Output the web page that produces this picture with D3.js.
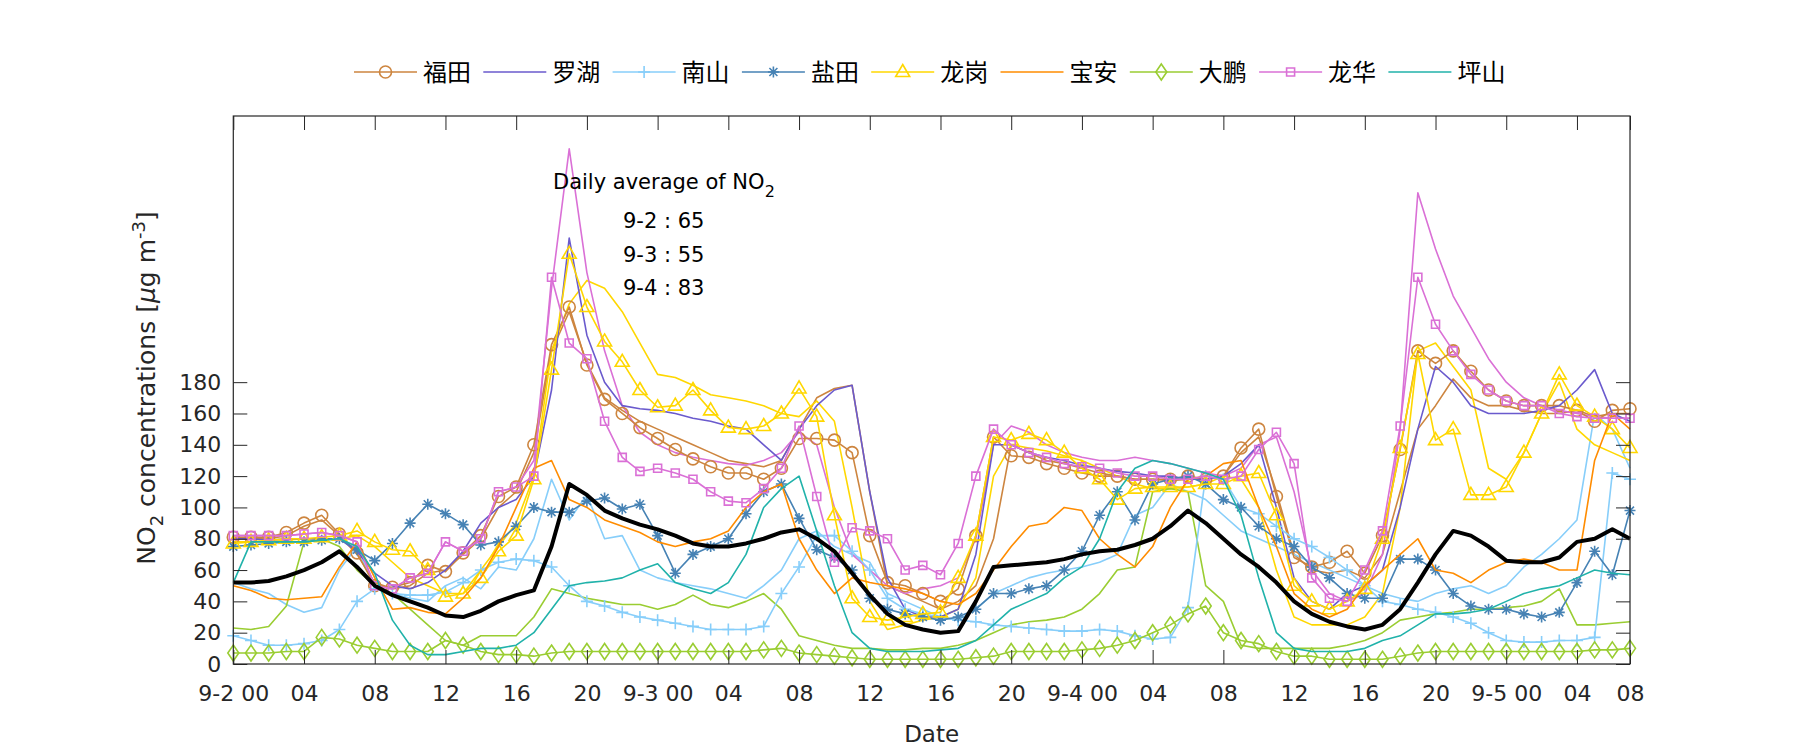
<!DOCTYPE html>
<html><head><meta charset="utf-8">
<script src="https://cdn.jsdelivr.net/npm/d3@7"></script>
<style>body{margin:0;background:#fff}</style>
</head><body><svg id="c" width="1800" height="750"></svg>
<script>
// ---------- axis ticks ----------
const xTickHours = [0,4,8,12,16,20,24,28,32,36,40,44,48,52,56,60,64,68,72,76,79];
const xTickLabels = ["9-2 00","04","08","12","16","20","9-3 00","04","08","12","16","20","9-4 00","04","08","12","16","20","9-5 00","04","08"];
const yTicks = [0,20,40,60,80,100,120,140,160,180];

// ---------- station series (hourly NO2, 9-2 00 .. 9-5 07) ----------
const futian = [81,81,81,84,90,95,83,71,50,49, 52,63,59,71,82,107,113,140,204,228, 191,169,160,151,144,137,131,126,122,122, 118,125,144,144,143,135,82,52,50,45, 40,48,82,145,133,132,128,125,122,120, 120,118,118,118,120,118,120,138,150,107, 68,62,65,72,58,82,137,200,192,200, 187,175,168,165,165,165,162,155,162,163];
const luohu = [80,80,79,80,80,80,80,72,58,50, 48,52,60,72,90,100,105,120,175,272, 210,180,165,163,162,160,157,155,152,150, 140,130,150,165,175,178,110,55,35,30, 30,35,70,140,140,135,132,130,127,125, 123,122,120,120,118,118,120,128,140,100, 55,40,35,45,50,60,100,150,190,180, 165,160,160,160,162,165,175,188,160,155];
const nanshan = [18,15,12,12,13,15,22,40,48,45, 44,44,46,52,60,65,67,66,62,50, 40,37,33,30,28,26,24,22,22,22, 24,45,62,82,82,72,60,42,35,32, 30,28,27,25,24,23,22,21,21,22, 21,18,16,17,36,120,118,100,96,88, 80,75,68,60,50,40,38,35,33,30, 26,20,15,14,14,15,15,17,122,118];
const yantian = [75,76,77,78,78,79,80,73,66,77, 90,102,96,89,76,78,88,100,97,97, 104,106,99,102,82,58,70,75,80,96, 110,115,93,73,68,60,42,35,32,30, 28,30,35,45,45,48,50,60,72,95, 110,92,115,118,120,115,105,100,88,80, 75,62,55,45,42,42,67,67,60,45, 37,35,35,32,30,33,52,72,57,98];
const longgang = [77,78,79,80,80,81,82,85,78,73, 72,60,43,45,55,72,82,118,188,262, 228,206,193,175,164,165,175,162,151,150, 152,160,176,158,95,42,30,28,30,32, 33,55,82,145,143,147,143,135,125,118, 105,112,113,113,113,115,115,120,122,95, 50,40,35,40,48,80,138,198,143,150, 108,108,113,135,160,185,165,158,150,138];
const baoan = [50,47,42,41,42,43,62,78,55,35, 36,33,32,42,55,75,100,125,130,105, 100,92,88,84,78,75,78,80,85,100, 110,115,80,60,45,55,52,50,48,45, 40,38,45,60,75,88,90,100,98,80, 70,62,75,100,118,120,128,130,100,75, 45,35,30,35,50,60,70,80,60,58, 52,60,65,67,65,60,60,130,160,150];
const dapeng = [7,7,7,8,8,17,16,12,10,8, 8,8,15,12,8,6,6,5,7,8, 8,8,8,8,8,8,8,8,8,8, 9,10,7,6,5,4,3,3,3,3, 3,3,4,5,8,8,8,8,9,10, 12,15,20,25,32,37,20,15,13,8, 5,5,3,3,3,3,5,7,8,8, 8,8,8,8,8,8,8,9,9,10];
const longhua = [82,82,82,82,83,84,82,78,50,48, 55,58,78,72,80,110,113,120,247,205, 195,155,132,123,125,122,118,110,104,103, 112,125,152,107,65,87,85,80,60,63, 57,77,120,150,140,135,132,128,126,125, 122,120,120,118,118,120,118,120,137,148, 128,55,42,40,60,85,152,247,217,200, 185,175,168,165,165,160,158,157,157,157];
const pingshan = [52,78,78,78,78,79,80,75,58,28, 12,6,6,8,10,10,12,20,35,50, 52,53,55,60,64,52,48,45,52,70, 100,112,120,85,50,20,10,8,8,8, 9,10,15,25,35,40,45,55,62,80, 110,125,130,128,125,122,118,95,55,20, 10,8,8,8,10,15,18,25,32,32, 33,35,40,45,48,50,55,60,58,57];
// second (unmarked) curves drawn in the same colours
const futianB = [80,80,80,82,88,92,82,70,52,48, 50,58,60,70,80,100,110,135,200,225, 192,170,162,155,150,145,140,135,130,128, 126,130,150,170,176,178,110,50,45,40, 35,40,50,80,140,135,130,128,125,122, 120,118,118,117,118,118,120,135,145,110, 70,60,58,60,55,70,110,150,165,182, 170,165,165,162,160,160,162,158,160,160];
const nanshanB = [52,48,45,38,33,36,60,75,48,45, 42,40,50,55,48,62,60,80,118,92, 108,80,82,60,55,52,50,48,45,42, 50,60,80,85,75,70,65,45,40,35, 30,28,35,45,50,55,58,60,62,65, 70,95,100,115,110,105,95,85,80,75, 70,65,60,55,50,45,42,40,45,48, 50,45,50,62,70,80,92,160,150,125];
const longgangB = [78,78,78,79,80,80,80,82,75,65, 55,50,45,45,60,75,90,120,200,230, 245,240,225,205,185,183,178,172,170,168, 165,160,158,168,155,100,40,22,25,28, 30,35,55,120,140,138,136,133,130,125, 120,115,112,112,113,115,120,118,100,60, 30,25,25,25,30,45,100,200,205,190, 175,125,118,135,160,180,150,140,135,130];
const dapengB = [23,22,24,37,78,80,75,60,50,45, 35,25,15,12,18,18,18,30,48,45, 42,40,38,38,35,38,44,38,36,40, 45,35,18,15,12,10,10,9,9,10, 10,12,15,20,25,27,28,30,35,45, 60,62,110,112,110,50,40,12,10,10, 10,10,10,12,15,20,28,30,32,33, 35,35,36,37,40,48,25,25,26,27];
const longhuaB = [82,82,82,82,83,84,82,78,50,48, 55,58,78,72,80,110,113,130,240,329, 250,200,165,148,140,135,132,130,128,127, 130,135,148,140,100,70,60,50,45,48, 50,55,80,140,152,148,140,135,132,130, 130,132,130,128,125,122,120,125,140,145, 110,60,45,40,45,70,150,301,265,235, 215,195,180,170,165,162,160,158,157,157];
// city average (thick black)
const average = [52,52,53,56,60,65,72,62,50,44, 40,36,31,30,34,40,44,47,75,115, 108,98,93,89,86,82,77,75,75,77, 80,84,86,80,72,58,44,32,25,22, 20,21,40,62,63,64,65,67,70,72, 73,76,80,88,98,90,80,70,62,52, 40,32,27,24,22,25,35,52,70,85, 82,75,66,65,65,68,78,80,86,80];

const stationNames = ["福田","罗湖","南山","盐田","龙岗","宝安","大鹏","龙华","坪山"];
const stationColors = ["#CD853F","#6A5ACD","#87CEFA","#4682B4","#FFD700","#FF8C00","#9ACD32","#DA70D6","#20B2AA"];
const stationMarkers = ["circle","none","plus","star","triangle","none","diamond","square","none"];
const stationData = [futian,luohu,nanshan,yantian,longgang,baoan,dapeng,longhua,pingshan];
const extraData = [futianB,nanshanB,longgangB,dapengB,longhuaB];
const extraColors = ["#CD853F","#87CEFA","#FFD700","#9ACD32","#DA70D6"];

// ---------- drawing ----------
const svg = d3.select("#c");
svg.append("rect").attr("width",1800).attr("height",750).attr("fill","#fff");
const L = 233.3, R = 1630, T = 116, B = 664;
const x = d3.scaleLinear().domain([0,79]).range([L,R]);
const y = d3.scaleLinear().domain([0,350]).range([B,T]);
const axisCol = "#262626";
const tickFont = "'DejaVu Sans', sans-serif";

const g = svg.append("g");
const line = d3.line().x((d,i)=>x(i)).y(d=>y(d));

const markerPath = {
  plus: "M-6,0H6M0,-6V6",
  star: "M-5.5,0H5.5M0,-5.5V5.5M-4,-4L4,4M-4,4L4,-4",
  triangle: "M0,-7.5L7,4.5L-7,4.5Z",
  diamond: "M0,-8L5.5,0L0,8L-5.5,0Z",
  square: "M-4,-4H4V4H-4Z"
};
function drawMarker(sel, type, color) {
  if (type === "none") return;
  if (type === "circle") {
    sel.append("circle").attr("r",6).attr("fill","none").attr("stroke",color).attr("stroke-width",1.6);
  } else {
    sel.append("path").attr("d",markerPath[type]).attr("fill","none").attr("stroke",color).attr("stroke-width",1.6);
  }
}

extraData.forEach((arr,k)=>{
  g.append("path").datum(arr).attr("d",line).attr("fill","none")
    .attr("stroke",extraColors[k]).attr("stroke-width",1.6).attr("stroke-linejoin","round");
});
stationData.forEach((arr,k)=>{
  g.append("path").datum(arr).attr("d",line).attr("fill","none")
    .attr("stroke",stationColors[k]).attr("stroke-width",1.6).attr("stroke-linejoin","round");
  if (stationMarkers[k] !== "none") {
    const pts = g.append("g").selectAll("g").data(arr).join("g")
      .attr("transform",(d,i)=>`translate(${x(i)},${y(d)})`);
    drawMarker(pts, stationMarkers[k], stationColors[k]);
  }
});
g.append("path").datum(average).attr("d",line).attr("fill","none")
  .attr("stroke","#000").attr("stroke-width",4).attr("stroke-linejoin","round");

// ---------- axes ----------
function styleAxis(a){
  a.selectAll("line").attr("stroke",axisCol).attr("stroke-width",1);
  a.selectAll("path.domain").remove();
  a.selectAll("text").attr("fill",axisCol).style("font-family",tickFont).style("font-size","22px");
}
const xb = svg.append("g").attr("transform",`translate(0,${B})`)
  .call(d3.axisBottom(x).tickValues(xTickHours).tickFormat((d,i)=>xTickLabels[i]).tickSizeInner(-14).tickSizeOuter(0).tickPadding(21));
styleAxis(xb);
const xt = svg.append("g").attr("transform",`translate(0,${T})`)
  .call(d3.axisTop(x).tickValues(xTickHours).tickFormat("").tickSizeInner(-14).tickSizeOuter(0));
styleAxis(xt);
const yl = svg.append("g").attr("transform",`translate(${L},0)`)
  .call(d3.axisLeft(y).tickValues(yTicks).tickSizeInner(-14).tickSizeOuter(0).tickPadding(12));
styleAxis(yl);
const yr = svg.append("g").attr("transform",`translate(${R},0)`)
  .call(d3.axisRight(y).tickValues(yTicks).tickFormat("").tickSizeInner(-14).tickSizeOuter(0));
styleAxis(yr);
svg.append("rect").attr("x",L).attr("y",T).attr("width",R-L).attr("height",B-T)
  .attr("fill","none").attr("stroke",axisCol).attr("stroke-width",1.2);

// axis labels
svg.append("text").attr("x",(L+R)/2).attr("y",742).attr("text-anchor","middle")
  .attr("fill",axisCol).style("font-family",tickFont).style("font-size","23px").text("Date");
const ylab = svg.append("text").attr("transform",`translate(155,${(T+B)/2 - 2}) rotate(-90)`)
  .attr("text-anchor","middle").attr("fill",axisCol).style("font-family",tickFont).style("font-size","25px");
ylab.append("tspan").text("NO");
ylab.append("tspan").attr("dy",8).style("font-size","18px").text("2");
ylab.append("tspan").attr("dy",-8).text(" concentrations [");
ylab.append("tspan").style("font-style","italic").text("μ");
ylab.append("tspan").text("g m");
ylab.append("tspan").attr("dy",-10).style("font-size","18px").text("-3");
ylab.append("tspan").attr("dy",10).text("]");

// annotation
const ann = svg.append("text").attr("x",553).attr("y",189).attr("fill","#000")
  .style("font-family",tickFont).style("font-size","21px");
ann.append("tspan").text("Daily average of NO");
ann.append("tspan").attr("dy",8).style("font-size","16px").text("2");
const dailyLabels = ["9-2 : 65","9-3 : 55","9-4 : 83"];
dailyLabels.forEach((t,i)=>{
  svg.append("text").attr("x",623).attr("y",228+i*33.5).attr("fill","#000")
    .style("font-family",tickFont).style("font-size","21px").text(t);
});

// legend
const leg = svg.append("g");
stationNames.forEach((n,k)=>{
  const lx = 354 + k*129.3, ly = 72;
  leg.append("line").attr("x1",lx).attr("x2",lx+63).attr("y1",ly).attr("y2",ly)
    .attr("stroke",stationColors[k]).attr("stroke-width",1.6);
  const m = leg.append("g").attr("transform",`translate(${lx+31.5},${ly})`);
  drawMarker(m, stationMarkers[k], stationColors[k]);
  leg.append("text").attr("x",lx+69).attr("y",ly).attr("dy","0.36em").attr("fill","#000")
    .style("font-family","'Noto Sans CJK SC', sans-serif").style("font-size","24px").text(n);
});
</script></body></html>
